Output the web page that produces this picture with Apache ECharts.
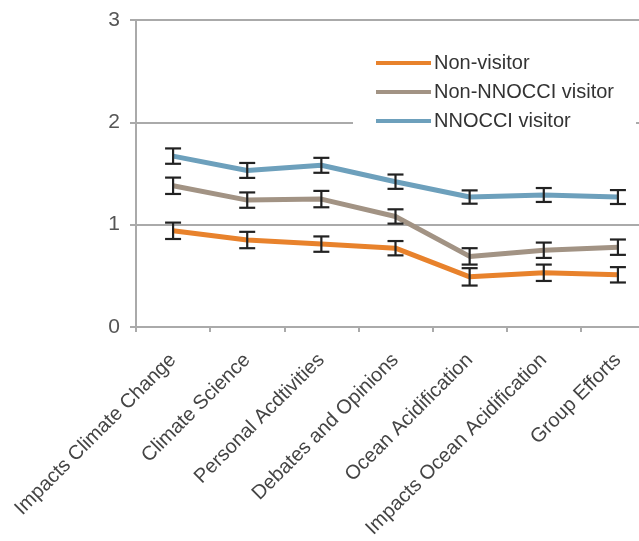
<!DOCTYPE html>
<html>
<head>
<meta charset="utf-8">
<script src="https://cdn.jsdelivr.net/npm/echarts@6/dist/echarts.min.js"></script>
<style>
html,body{margin:0;padding:0;background:#fff;}
#chart{width:639px;height:541px;}
</style>
</head>
<body>
<div id="chart"></div>
<script>
var categories = ["Impacts Climate Change","Climate Science","Personal Acdtivities","Debates and Opinions","Ocean Acidification","Impacts Ocean Acidification","Group Efforts"];
var seriesNames = ["Non-visitor","Non-NNOCCI visitor","NNOCCI visitor"];
var nonVisitor = [0.94, 0.85, 0.81, 0.77, 0.49, 0.53, 0.51];
var nonVisitorErr = [0.08, 0.08, 0.075, 0.07, 0.085, 0.08, 0.075];
var nonNnocci = [1.38, 1.24, 1.25, 1.08, 0.69, 0.75, 0.78];
var nonNnocciErr = [0.08, 0.075, 0.08, 0.07, 0.08, 0.075, 0.075];
var nnocci = [1.67, 1.53, 1.58, 1.42, 1.27, 1.29, 1.27];
var nnocciErr = [0.075, 0.073, 0.073, 0.07, 0.065, 0.068, 0.068];
var yTicks = [0, 1, 2, 3];

var colors = ["#e8822c", "#a29384", "#6da0bc"];
var values = [nonVisitor, nonNnocci, nnocci];
var errs = [nonVisitorErr, nonNnocciErr, nnocciErr];

var chart = echarts.init(document.getElementById('chart'), null, {renderer:'canvas'});

function errData(v, e) {
  return v.map(function(val, i){ return [i, val - e[i], val + e[i]]; });
}
function renderErr(params, api) {
  var x = api.value(0);
  var lo = api.coord([x, api.value(1)]);
  var hi = api.coord([x, api.value(2)]);
  var hw = 8;
  var st = {stroke:'#222', lineWidth:2.2};
  return {
    type:'group',
    children:[
      {type:'line', shape:{x1:lo[0], y1:lo[1], x2:hi[0], y2:hi[1]}, style:st},
      {type:'line', shape:{x1:lo[0]-hw, y1:lo[1], x2:lo[0]+hw, y2:lo[1]}, style:st},
      {type:'line', shape:{x1:hi[0]-hw, y1:hi[1], x2:hi[0]+hw, y2:hi[1]}, style:st}
    ]
  };
}

var series = [];
for (var k = 0; k < 3; k++) {
  series.push({
    name: seriesNames[k],
    type: 'line',
    data: values[k],
    symbol: 'none',
    lineStyle: {color: colors[k], width: 5},
    itemStyle: {color: colors[k]},
    z: 2,
    animation: false
  });
}
for (var k2 = 0; k2 < 3; k2++) {
  series.push({
    type: 'custom',
    data: errData(values[k2], errs[k2]),
    renderItem: renderErr,
    encode: {x: 0, y: [1, 2]},
    z: 3,
    silent: true,
    animation: false
  });
}

chart.setOption({
  animation: false,
  backgroundColor: '#fff',
  grid: {left: 136, top: 20, width: 519, height: 307, outerBoundsMode: 'none', containLabel: false},
  legend: {
    data: seriesNames.map(function(n, i){ return {name: n, icon: 'rect', itemStyle:{color: colors[i]}}; }),
    orient: 'vertical',
    left: 353,
    top: 43,
    padding: [10, 22, 8, 23],
    backgroundColor: '#fff',
    itemWidth: 55,
    itemHeight: 4,
    itemGap: 9,
    textStyle: {fontFamily: 'Liberation Sans', fontSize: 20, color: '#333', padding: [0,0,0,-2], lineHeight: 20},
    z: 4
  },
  xAxis: {
    type: 'category',
    data: categories,
    boundaryGap: true,
    axisLine: {lineStyle: {color: '#aaa', width: 2}},
    axisTick: {show: true, interval: 0, length: 5, lineStyle: {color: '#aaa', width: 2}},
    axisLabel: {interval: 0, rotate: 45, fontFamily: 'Liberation Sans', fontSize: 20, color: '#444', margin: 30},
    splitLine: {show: false}
  },
  yAxis: {
    type: 'value',
    min: yTicks[0],
    max: yTicks[yTicks.length - 1],
    interval: 1,
    axisLine: {show: true, lineStyle: {color: '#aaa', width: 2}},
    axisTick: {show: true, length: 6, lineStyle: {color: '#aaa', width: 2}},
    axisLabel: {fontFamily: 'Liberation Sans', fontSize: 21, color: '#555', margin: 16},
    splitLine: {show: true, lineStyle: {color: '#aaa', width: 2}}
  },
  series: series
});
</script>
</body>
</html>
